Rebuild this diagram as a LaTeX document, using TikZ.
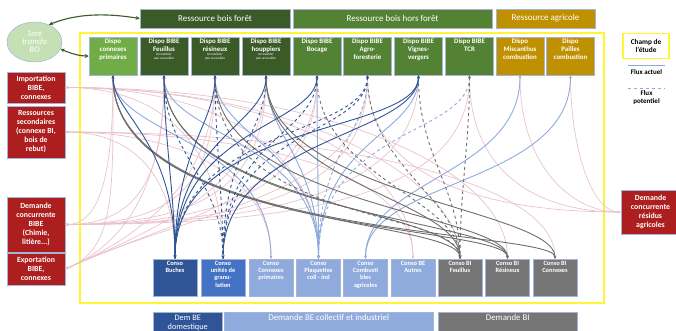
\documentclass[tikz,border=0pt]{standalone}
\usepackage{fontspec}
\setmainfont{Carlito}
\usetikzlibrary{arrows.meta,shapes.geometric}
\definecolor{dkgreen}{HTML}{3A5A27}
\definecolor{mdgreen}{HTML}{548235}
\definecolor{ltgreen}{HTML}{70AD47}
\definecolor{mustard}{HTML}{BF9000}
\definecolor{dkblue}{HTML}{2F5597}
\definecolor{mdblue}{HTML}{4472C4}
\definecolor{ltblue}{HTML}{8FAADC}
\definecolor{grayb}{HTML}{767676}
\definecolor{grayl}{HTML}{6E6E6E}
\definecolor{redb}{HTML}{AD1F1F}
\definecolor{pinkl}{HTML}{E9C3CB}
\definecolor{bordr}{HTML}{A4B4D6}
\definecolor{yell}{HTML}{FFF533}
\definecolor{ellfill}{HTML}{C5E0B4}
\newcommand{\mytopbox}[3]{\parbox[t][#1][t]{#2}{\centering #3}}
\newcommand{\tinytxt}[1]{{\mdseries\fontsize{3.4}{4}\selectfont #1\par}}
\newcommand{\fv}[5]{\draw[#1] (#2.south) .. controls +(0,#4) and +(0,-#5) .. (#3.north);}
\begin{document}
\begin{tikzpicture}[x=1pt,y=-1pt,
  box/.style={draw=bordr,line width=0.5pt,text=white,inner sep=0pt},
  dispo/.style={box,minimum width=48pt,minimum height=38pt,font=\bfseries\fontsize{6.9}{7.8}\selectfont},
  conso/.style={box,minimum width=44pt,minimum height=37pt,font=\bfseries\fontsize{6.4}{7.3}\selectfont},
  redbox/.style={box,fill=redb,align=center,font=\bfseries\fontsize{7.8}{9}\selectfont},
  band/.style={box,minimum height=19pt,font=\fontsize{9}{10}\selectfont},
  twoarr/.style={{Stealth[length=3pt,width=2.6pt]}-{Stealth[length=3pt,width=2.6pt]}},
  fp/.style={pinkl,line width=0.7pt,twoarr},
  flb/.style={ltblue,line width=0.9pt,twoarr},
  flbd/.style={flb,dashed},
  fg/.style={grayl,line width=0.9pt,twoarr},
  fgd/.style={fg,dashed},
  fdb/.style={dkblue,line width=0.9pt,twoarr},
  fdbd/.style={fdb,dashed}
]
\useasboundingbox (0,0) rectangle (676,330);
% study field
\draw[yell,line width=2pt] (80,33) rectangle (604,303);
% header bands
\node[band,fill=dkgreen,minimum width=150pt] (rbf) at (215,18.5) {Ressource bois forêt};
\node[band,fill=mdgreen,minimum width=199pt] (rbhf) at (392.5,18.5) {Ressource bois hors forêt};
\node[band,fill=mustard,minimum width=99pt] (ragr) at (545.5,18.5) {Ressource agricole};
% ellipse
\node[ellipse,fill=ellfill,draw=bordr,line width=0.5pt,minimum width=55pt,minimum height=40pt,text=white,inner sep=0pt,
  font=\itshape\fontsize{8.6}{8}\selectfont,align=center] (tr) at (34.5,42) {1ere\\transfo\\BO};
% dispo boxes
\node[dispo,fill=ltgreen] (d1) at (113,56) {\mytopbox{34pt}{47pt}{Dispo\\connexes\\primaires}};
\node[dispo,fill=dkgreen] (d2) at (164,56) {\mytopbox{34pt}{47pt}{Dispo BIBE\\Feuillus\\\tinytxt{Accessible/\\peu accessible}}};
\node[dispo,fill=dkgreen] (d3) at (215,56) {\mytopbox{34pt}{47pt}{Dispo BIBE\\résineux\\\tinytxt{Accessible/\\peu accessible}}};
\node[dispo,fill=dkgreen] (d4) at (266,56) {\mytopbox{34pt}{47pt}{Dispo BIBE\\houppiers\\\tinytxt{Accessible/\\peu accessible}}};
\node[dispo,fill=mdgreen] (d5) at (317,56) {\mytopbox{34pt}{47pt}{Dispo BIBE\\Bocage}};
\node[dispo,fill=mdgreen] (d6) at (367.5,56) {\mytopbox{34pt}{47pt}{Dispo BIBE\\Agro-\\foresterie}};
\node[dispo,fill=mdgreen] (d7) at (418.5,56) {\mytopbox{34pt}{47pt}{Dispo BIBE\\Vignes-\\vergers}};
\node[dispo,fill=mdgreen] (d8) at (469.5,56) {\mytopbox{34pt}{47pt}{Dispo BIBE\\TCR}};
\node[dispo,fill=mustard] (d9) at (520,56) {\mytopbox{34pt}{47pt}{Dispo\\Miscanthus\\combustion}};
\node[dispo,fill=mustard] (d10) at (570.5,56) {\mytopbox{34pt}{47pt}{Dispo\\Pailles\\combustion}};
% conso boxes
\node[conso,fill=dkblue] (c1) at (175,277.5) {\mytopbox{33pt}{43pt}{Conso\\Buches}};
\node[conso,fill=mdblue] (c2) at (223,277.5) {\mytopbox{33pt}{43pt}{Conso\\unités de\\granu-\\lation}};
\node[conso,fill=ltblue] (c3) at (271,277.5) {\mytopbox{33pt}{43pt}{Conso\\Connexes\\primaires}};
\node[conso,fill=ltblue] (c4) at (318.5,277.5) {\mytopbox{33pt}{43pt}{Conso\\Plaquettes\\coll - ind}};
\node[conso,fill=ltblue] (c5) at (365.5,277.5) {\mytopbox{33pt}{43pt}{Conso\\Combusti\\bles\\agricoles}};
\node[conso,fill=ltblue] (c6) at (413,277.5) {\mytopbox{33pt}{43pt}{Conso BE\\Autres}};
\node[conso,fill=grayb] (c7) at (460,277.5) {\mytopbox{33pt}{43pt}{Conso BI\\Feuillus}};
\node[conso,fill=grayb] (c8) at (507.5,277.5) {\mytopbox{33pt}{43pt}{Conso BI\\Résineux}};
\node[conso,fill=grayb] (c9) at (555,277.5) {\mytopbox{33pt}{43pt}{Conso BI\\Connexes}};
% bottom bands
\node[box,fill=dkblue,minimum width=69pt,minimum height=30pt,anchor=north west] (ddom) at (153,312) {};
\node[text=white,font=\fontsize{8.3}{9}\selectfont,align=center,anchor=north,inner sep=2.5pt] (ddomt) at (ddom.north) {Dem BE\\domestique};
\node[box,fill=ltblue,minimum width=209pt,minimum height=30pt,anchor=north west] (dcol) at (224,312) {};
\node[text=white,font=\fontsize{8.8}{9}\selectfont,anchor=north,inner sep=2.5pt] (dcolt) at (dcol.north) {Demande BE collectif et industriel};
\node[box,fill=grayb,minimum width=139pt,minimum height=30pt,anchor=north west] (dbi) at (438,312) {};
\node[text=white,font=\fontsize{8.8}{9}\selectfont,anchor=north,inner sep=2.5pt] (dbit) at (dbi.north) {Demande BI};
% red boxes
\node[redbox,minimum width=58pt,minimum height=31pt] (imp) at (36,87.5) {Importation\\BIBE,\\connexes};
\node[redbox,minimum width=58pt,minimum height=52pt] (rs) at (36,132) {Ressources\\secondaires\\(connexe BI,\\bois de\\rebut)};
\node[redbox,minimum width=58pt,minimum height=55pt] (dem) at (36,224.5) {Demande\\concurrente\\BIBE\\(Chimie,\\litière...)};
\node[redbox,minimum width=58pt,minimum height=32pt] (exp) at (36,269) {Exportation\\BIBE,\\connexes};
\node[redbox,minimum width=59pt,minimum height=44pt] (resid) at (650.5,212) {Demande\\concurrente\\résidus\\agricoles};
% legend
\node[draw=yell,line width=1.8pt,minimum width=46pt,minimum height=25pt,align=center,inner sep=0pt,
  font=\bfseries\fontsize{7.3}{7.8}\selectfont] (champ) at (646,46) {Champ de\\l'étude};
\coordinate (la1) at (628,65); \coordinate (la2) at (665,65);
\draw[ltblue,line width=1pt] (la1) -- (la2);
\node[font=\bfseries\fontsize{7}{7.5}\selectfont,inner sep=0pt] (lfa) at (646.5,72.5) {Flux actuel};
\coordinate (lb1) at (628,88); \coordinate (lb2) at (665,88);
\draw[ltblue,line width=1pt,dashed] (lb1) -- (lb2);
\node[font=\bfseries\fontsize{7}{8}\selectfont,align=center,inner sep=0pt] (lfp) at (646.5,97.5) {Flux\\potentiel};
% ellipse arrows
\draw[dkgreen,line width=1.1pt,{Stealth[length=4pt,width=4pt]}-{Stealth[length=4pt,width=4pt]}] (tr.50) .. controls (80,12) and (112,14) .. (rbf.west);
\draw[dkgreen,line width=1.1pt,{Stealth[length=4pt,width=4pt]}-{Stealth[length=4pt,width=4pt]}] (tr.-15) .. controls (72,54) and (80,56) .. (d1.west);
% ---- pink flows
\draw[fp] (imp.east) .. controls +(90,0) and +(0,-120) .. (c2.north);
\draw[fp] (imp.east) .. controls +(150,0) and +(0,-110) .. (c4.north);
\draw[fp] (imp.east) .. controls +(200,0) and +(0,-100) .. (c6.north);
\draw[fp] (imp.east) .. controls +(230,0) and +(0,-80) .. (c7.north);
\draw[fp] (imp.east) .. controls +(260,0) and +(0,-90) .. (c8.north);
\draw[fp] (rs.east) .. controls +(70,0) and +(0,-80) .. (c1.north);
\draw[fp] (rs.east) .. controls +(120,0) and +(0,-80) .. (c3.north);
\draw[fp] (rs.east) .. controls +(180,0) and +(0,-90) .. (c6.north);
\draw[fp] (rs.east) .. controls +(260,0) and +(0,-80) .. (c9.north);
\draw[fp] (d1.south) .. controls +(0,80) and +(40,0) .. (dem.east);
\draw[fp] (d2.south) .. controls +(0,90) and +(80,0) .. (dem.east);
\draw[fp] (d3.south) .. controls +(0,100) and +(120,0) .. (dem.east);
\draw[fp] (d4.south) .. controls +(0,100) and +(150,0) .. (dem.east);
\draw[fp] (d5.south) .. controls +(0,100) and +(180,0) .. (dem.east);
\draw[fp] (d6.south) .. controls +(0,110) and +(200,0) .. (dem.east);
\draw[fp] (d7.south) .. controls +(0,110) and +(220,0) .. (dem.east);
\draw[fp] (d8.south) .. controls +(0,120) and +(240,0) .. (dem.east);
\draw[fp] (d1.south) .. controls +(0,120) and +(50,-20) .. (exp.east);
\draw[fp] (d2.south) .. controls +(0,110) and +(60,-25) .. (exp.east);
\draw[fp] (d3.south) .. controls +(0,110) and +(70,-30) .. (exp.east);
\draw[fp] (d4.south) .. controls +(0,110) and +(90,-40) .. (exp.east);
\draw[fp] (d5.south) .. controls +(0,120) and +(110,-50) .. (exp.east);
\draw[fp] (d6.south) .. controls +(0,120) and +(130,-60) .. (exp.east);
\draw[fp] (d9.south) .. controls +(0,90) and +(-50,0) .. (resid.west);
\draw[fp] (d10.south) .. controls +(0,70) and +(-30,0) .. (resid.west);
\draw[fp] (d8.south) .. controls +(0,100) and +(-80,0) .. (resid.west);
\draw[fp] (d6.south) .. controls +(0,110) and +(-120,0) .. (resid.west);
% ---- light blue flows
\fv{flb}{d1}{c3}{60}{120}
\fv{flb}{d2}{c4}{60}{120}
\fv{flb}{d3}{c4}{60}{110}
\fv{flb}{d4}{c4}{60}{100}
\fv{flb}{d5}{c4}{60}{60}
\fv{flb}{d7}{c4}{60}{120}
\fv{flbd}{d6}{c4}{60}{110}
\fv{flbd}{d8}{c4}{60}{130}
\fv{flb}{d9}{c5}{100}{80}
\fv{flb}{d10}{c5}{110}{80}
% ---- gray flows
\fv{fg}{d1}{c7}{150}{40}
\fv{fg}{d1}{c8}{160}{35}
\fv{fg}{d1}{c9}{165}{30}
\fv{fg}{d2}{c7}{130}{50}
\fv{fg}{d2}{c8}{140}{40}
\fv{fg}{d3}{c8}{130}{45}
\fv{fg}{d4}{c7}{110}{60}
\fv{fg}{d4}{c9}{120}{50}
\fv{fgd}{d3}{c7}{150}{50}
\fv{fgd}{d5}{c7}{100}{60}
\fv{fgd}{d6}{c7}{90}{60}
\fv{fgd}{d7}{c7}{80}{70}
\fv{fgd}{d8}{c7}{70}{70}
% ---- dark blue flows
\fv{fdb}{d1}{c1}{40}{120}
\fv{fdb}{d2}{c1}{60}{60}
\fv{fdb}{d3}{c1}{50}{110}
\fv{fdb}{d4}{c1}{50}{120}
\fv{fdb}{d5}{c1}{50}{130}
\fv{fdb}{d7}{c1}{60}{140}
\fv{fdb}{d7}{c2}{60}{120}
\fv{fdbd}{d2}{c2}{80}{80}
\fv{fdbd}{d3}{c2}{60}{60}
\fv{fdbd}{d4}{c2}{60}{110}
\fv{fdbd}{d5}{c2}{60}{120}
\fv{fdbd}{d6}{c2}{60}{130}
\fv{fdbd}{d6}{c1}{60}{130}
\end{tikzpicture}
\end{document}
